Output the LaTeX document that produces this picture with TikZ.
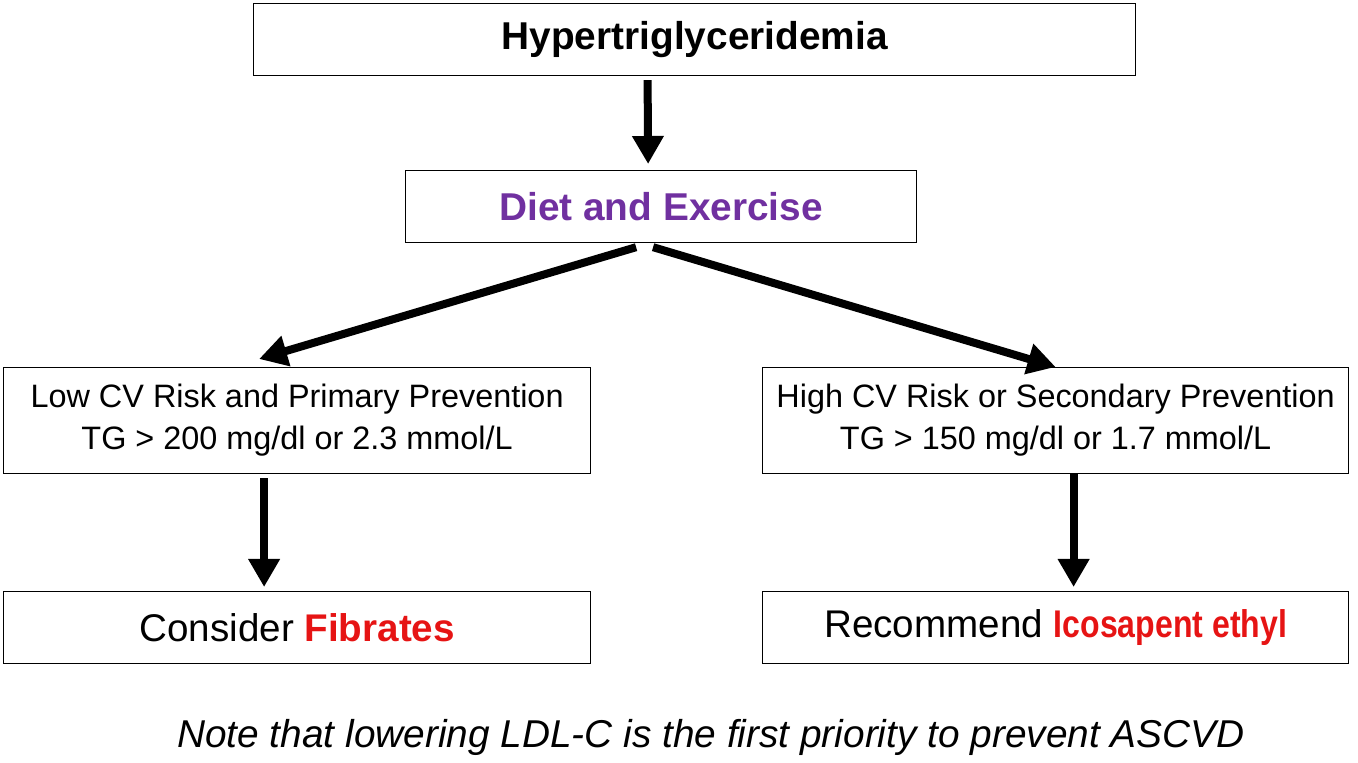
\documentclass[tikz,border=0pt]{standalone}
\usepackage{fontspec}
\usepackage{graphicx}
\setmainfont{Liberation Sans}
\usetikzlibrary{arrows.meta}
\definecolor{purp}{RGB}{112,48,160}
\definecolor{redt}{RGB}{230,20,20}
\begin{document}
\begin{tikzpicture}[x=0.5pt,y=-0.5pt,
  box/.style={draw,line width=0.6pt,inner sep=0pt,anchor=north west},
  arr/.style={line width=4pt,-{Triangle[length=14pt,width=15pt]}}]
\useasboundingbox (0,0) rectangle (1358,763);
\node[box,minimum width=441pt,minimum height=36pt,font=\fontsize{19.4}{22}\selectfont\bfseries] (hyp) at (253,3) {Hypertriglyceridemia};
\node[box,minimum width=255.5pt,minimum height=36pt,font=\fontsize{19.4}{22}\selectfont\bfseries,text=purp] (diet) at (405,170) {Diet and Exercise};
\node[box,minimum width=293.5pt,minimum height=53pt,font=\fontsize{16.2}{21}\selectfont,align=center] (low) at (3,367) {Low CV Risk and Primary Prevention\\TG > 200 mg/dl or 2.3 mmol/L};
\node[box,minimum width=293pt,minimum height=53pt,font=\fontsize{16.2}{21}\selectfont,align=center] (high) at (762,367) {High CV Risk or Secondary Prevention\\TG > 150 mg/dl or 1.7 mmol/L};
\node[box,minimum width=293.5pt,minimum height=36pt,font=\fontsize{19.3}{22}\selectfont] (fib) at (3,591) {Consider \textcolor{redt}{\bfseries Fibrates}};
\node[box,minimum width=293pt,minimum height=36pt,font=\fontsize{19.3}{22}\selectfont] (ico) at (762,591) {Recommend \textcolor{redt}{\scalebox{0.83}[1]{\bfseries Icosapent ethyl}}};
\node[font=\fontsize{19.4}{22}\selectfont\itshape] (note) at (711,737) {Note that lowering LDL-C is the first priority to prevent ASCVD};
\draw[arr] ([xshift=-23.5pt,yshift=-2pt]hyp.south) -- ([xshift=-6.5pt,yshift=3pt]diet.north);
\draw[arr] ([xshift=-12.5pt,yshift=-2pt]diet.south) -- ([xshift=-19pt,yshift=4pt]low.north);
\draw[arr] ([xshift=-4pt,yshift=-2pt]diet.south) -- ([xshift=-0pt,yshift=0pt]high.north);
\draw[arr] ([xshift=-16.5pt,yshift=-2pt]low.south) -- ([xshift=-16.5pt,yshift=2pt]fib.north);
\draw[arr] ([xshift=9pt,yshift=0pt]high.south) -- ([xshift=9pt,yshift=2pt]ico.north);
\end{tikzpicture}
\end{document}
